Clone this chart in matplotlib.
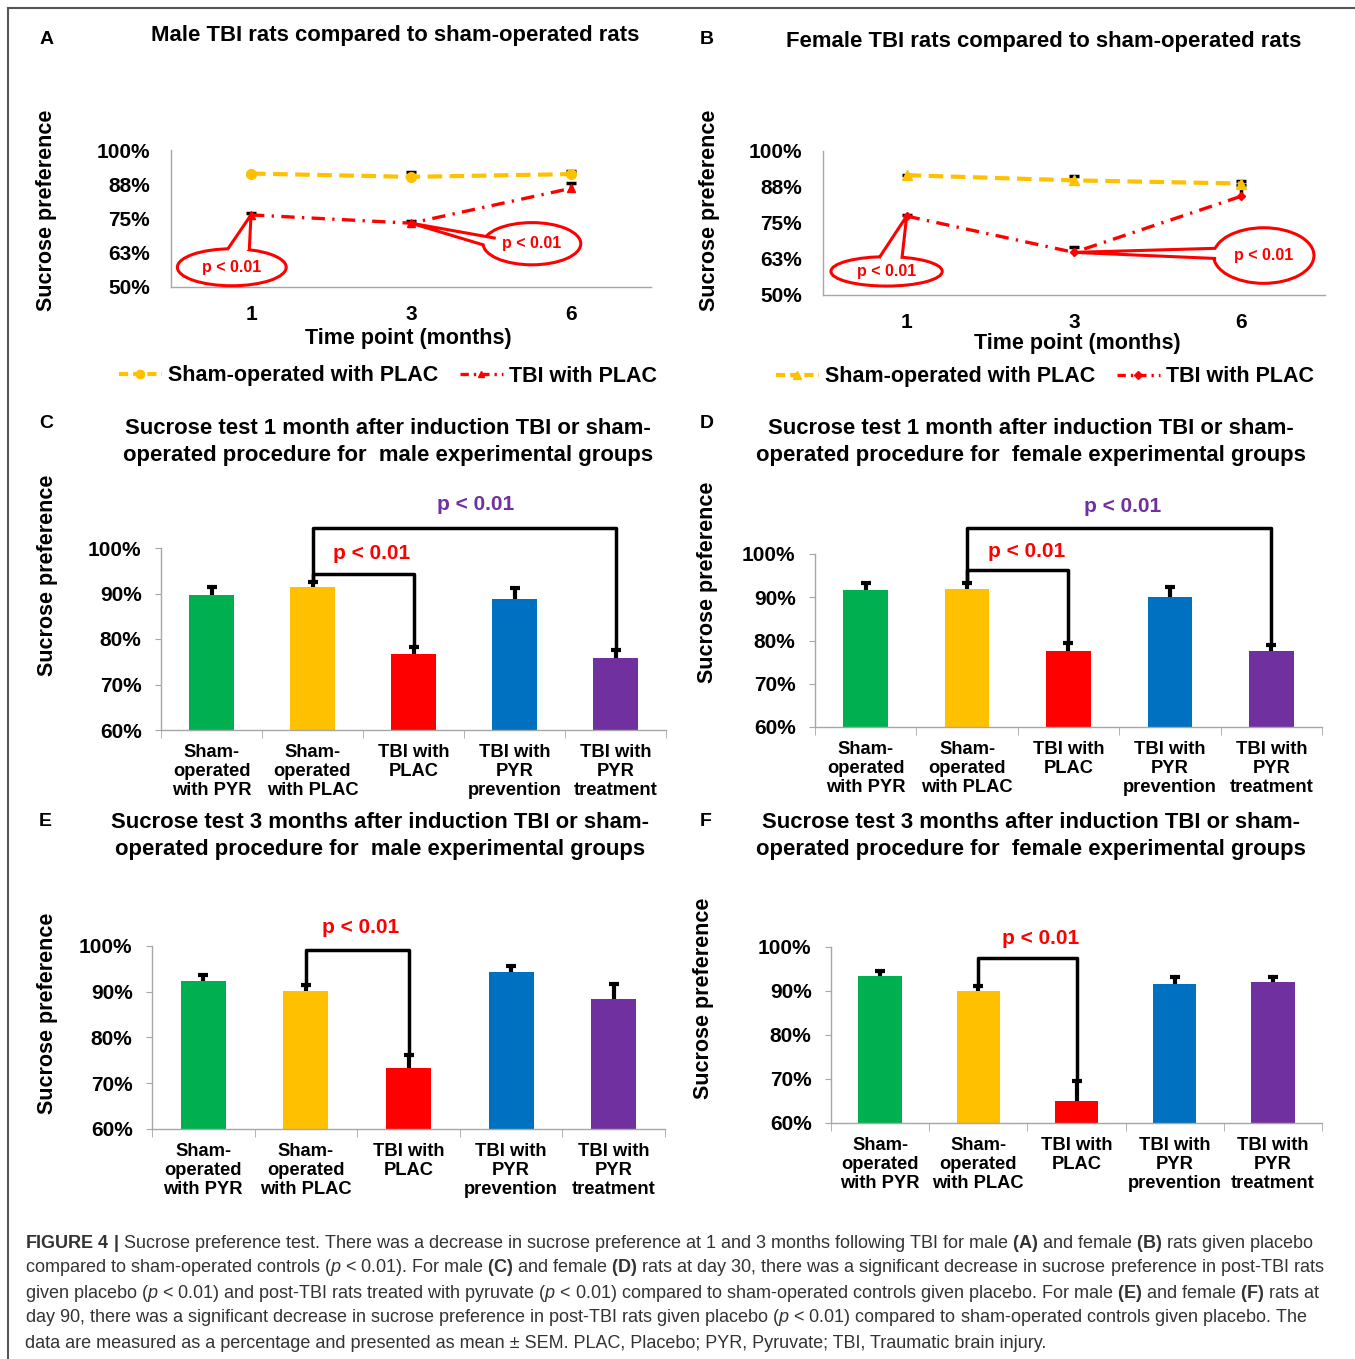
import numpy as np
import matplotlib.pyplot as plt
from matplotlib.patches import Ellipse, Polygon
from matplotlib.lines import Line2D

plt.rcParams['font.family'] = ['Liberation Sans', 'DejaVu Sans']
plt.rcParams['mathtext.fontset'] = 'custom'
plt.rcParams['mathtext.rm'] = 'Liberation Sans'
plt.rcParams['mathtext.bf'] = 'Liberation Sans:bold'
plt.rcParams['mathtext.it'] = 'Liberation Sans:italic'

W, H = 1355, 1359

# ---- data (A, B: time course) ----
months = ['1', '3', '6']
male_sham = [91.4, 90.2, 91.2]
male_sham_err = [0.0, 1.9, 1.2]
male_tbi = [76.3, 73.3, 86.0]
male_tbi_err = [0.6, 0.9, 1.9]
female_sham = [91.6, 89.8, 88.7]
female_sham_err = [0.0, 1.5, 0.8]
female_tbi = [77.4, 64.8, 84.3]
female_tbi_err = [0.5, 1.9, 4.0]

# ---- data (C-F: bar charts) ----
groups = ['Sham-\noperated\nwith PYR', 'Sham-\noperated\nwith PLAC', 'TBI with\nPLAC',
          'TBI with\nPYR\nprevention', 'TBI with\nPYR\ntreatment']
bar_colors = ['#00B050', '#FFC000', '#FF0000', '#0070C0', '#7030A0']
c_vals = [89.6, 91.5, 76.6, 88.8, 75.8]
c_err = [1.9, 1.0, 1.6, 2.4, 1.8]
d_vals = [91.7, 91.8, 77.5, 90.1, 77.6]
d_err = [1.7, 1.4, 2.0, 2.2, 1.3]
e_vals = [92.4, 90.2, 73.4, 94.4, 88.4]
e_err = [1.3, 1.3, 2.8, 1.2, 3.3]
f_vals = [93.3, 90.1, 64.9, 91.7, 92.0]
f_err = [1.2, 1.0, 4.7, 1.5, 1.2]

YELLOW = '#FFC000'
RED = '#FF0000'
PURPLE = '#7030A0'
GRAY = '#A6A6A6'

fig = plt.figure(figsize=(W / 100, H / 100), dpi=100)


def fx(x):
    return x / W


def fy(y):
    return 1 - y / H


def make_axes(x0, y0, x1, y1):
    ax = fig.add_axes([fx(x0), fy(y1), (x1 - x0) / W, (y1 - y0) / H])
    for s in ['top', 'right']:
        ax.spines[s].set_visible(False)
    for s in ['left', 'bottom']:
        ax.spines[s].set_color(GRAY)
        ax.spines[s].set_linewidth(1.0)
    return ax


def up_errors(ax, x, vals, err, lw, z):
    # error bars drawn only above the mean, with a small cap
    tops = [v + e for v, e in zip(vals, err)]
    ax.vlines(x, vals, tops, color='black', lw=lw, zorder=z)
    ax.plot(x, tops, linestyle='none', marker='_', markersize=7, markeredgewidth=lw,
            color='black', zorder=z)


def callout(ax, center, w, h, base1, base2, tip):
    ell = Ellipse(center, w, h, facecolor='white', edgecolor=RED, lw=2.2, zorder=6, clip_on=False)
    ax.add_patch(ell)
    cx, cy = center
    b1in = (base1[0] + 0.2 * (cx - base1[0]), base1[1] + 0.2 * (cy - base1[1]))
    b2in = (base2[0] + 0.2 * (cx - base2[0]), base2[1] + 0.2 * (cy - base2[1]))
    ax.add_patch(Polygon([tip, base1, b1in, b2in, base2], closed=True, facecolor='white',
                         edgecolor='none', zorder=7, clip_on=False))
    ax.plot([base1[0], tip[0], base2[0]], [base1[1], tip[1], base2[1]], color=RED, lw=2.2,
            zorder=8, clip_on=False)
    ax.text(cx, cy, 'p < 0.01', color=RED, fontsize=11.5, fontweight='bold',
            ha='center', va='center', zorder=9)


def line_panel(rect, sham, sham_err, tbi, tbi_err, sham_mk, tbi_mk):
    ax = make_axes(*rect)
    x = np.arange(len(months))
    up_errors(ax, x, sham, sham_err, 2.5, 2)
    up_errors(ax, x, tbi, tbi_err, 2.5, 2)
    ax.plot(x, sham, color=YELLOW, lw=3, linestyle=(0, (3.5, 1.8)), marker=sham_mk,
            markersize=7, zorder=3)
    ax.plot(x, tbi, color=RED, lw=2.4, linestyle=(0, (4, 2.2, 0.7, 2.2)), marker=tbi_mk,
            markersize=5.5 if tbi_mk == '^' else 4.5, zorder=4)
    ax.set_xlim(-0.5, 2.5)
    ax.set_ylim(50, 100)
    ax.set_xticks(x)
    ax.set_xticklabels(months, fontsize=15, fontweight='bold')
    ax.set_yticks([50, 62.5, 75, 87.5, 100])
    ax.set_yticklabels(['50%', '63%', '75%', '88%', '100%'], fontsize=15, fontweight='bold')
    ax.tick_params(axis='both', length=0)
    ax.tick_params(axis='y', pad=15)
    ax.tick_params(axis='x', pad=13)
    handles = [Line2D([], [], color=YELLOW, lw=3, linestyle=(0, (2.2, 1.2)), marker=sham_mk,
                      markersize=6),
               Line2D([], [], color=RED, lw=2.4, linestyle=(0, (2.5, 1.5, 0.7, 1.5)),
                      marker=tbi_mk, markersize=4.5)]
    return ax, handles


def bar_panel(rect, vals, err, brackets):
    ax = make_axes(*rect)
    x = np.arange(len(groups))
    ax.bar(x, [v - 60 for v in vals], bottom=60, width=0.44, color=bar_colors, zorder=2)
    up_errors(ax, x, vals, err, 3, 3)
    ax.set_xlim(-0.5, 4.5)
    ax.set_ylim(60, 100)
    ax.set_yticks([60, 70, 80, 90, 100])
    ax.set_yticklabels(['60%', '70%', '80%', '90%', '100%'], fontsize=15, fontweight='bold')
    ax.set_xticks(x)
    ax.set_xticklabels(groups, fontsize=13.2, fontweight='bold', linespacing=1.15)
    ax.set_xticks(np.arange(-0.5, 5, 1), minor=True)
    ax.tick_params(axis='x', which='major', length=0, pad=10)
    ax.tick_params(axis='x', which='minor', length=6, color=GRAY)
    ax.tick_params(axis='y', length=4, color=GRAY, pad=10)
    for i, j, level, tx, ty, col in brackets:
        ax.plot([i, i, j, j], [vals[i] + err[i], level, level, vals[j] + err[j]],
                color='black', lw=2.5, zorder=4, clip_on=False)
        ax.text(tx, ty, 'p < 0.01', color=col, fontsize=15, fontweight='bold',
                ha='center', va='center')
    return ax


# ---- panel A ----
axA, hA = line_panel((171, 150, 651, 287), male_sham, male_sham_err, male_tbi, male_tbi_err,
                     'o', '^')
callout(axA, (-0.12, 57.2), 0.68, 13.5, (-0.14, 64.3), (-0.01, 64.3), (0, male_tbi[0]))
callout(axA, (1.756, 65.8), 0.61, 15.4, (1.52, 67.9), (1.45, 65.4), (1, male_tbi[1]))
axA.legend(hA, ['Sham-operated with PLAC', 'TBI with PLAC'], loc='center',
           bbox_to_anchor=(fx(388), fy(376)), bbox_transform=fig.transFigure, ncol=2,
           frameon=False, prop=dict(weight='bold', size=15.5), handlelength=2.0,
           handletextpad=0.3, columnspacing=1.0)

# ---- panel B ----
axB, hB = line_panel((823, 151, 1325, 295), female_sham, female_sham_err, female_tbi,
                     female_tbi_err, '^', 'D')
callout(axB, (-0.12, 58.2), 0.665, 10.2, (-0.16, 63.3), (-0.027, 63.3), (0, female_tbi[0]))
callout(axB, (2.134, 63.7), 0.60, 19.3, (1.84, 66.2), (1.84, 62.7), (1, female_tbi[1]))
axB.legend(hB, ['Sham-operated with PLAC', 'TBI with PLAC'], loc='center',
           bbox_to_anchor=(fx(1045), fy(377)), bbox_transform=fig.transFigure, ncol=2,
           frameon=False, prop=dict(weight='bold', size=15.5), handlelength=2.0,
           handletextpad=0.3, columnspacing=1.0)

# ---- panels C-F ----
bar_panel((161, 548, 666, 730), c_vals, c_err,
          [(1, 2, 94.3, 1.59, 98.9, RED), (1, 4, 104.4, 2.62, 109.5, PURPLE)])
bar_panel((815, 554, 1322, 727), d_vals, d_err,
          [(1, 2, 96.4, 1.59, 100.6, RED), (1, 4, 106.1, 2.53, 110.9, PURPLE)])
bar_panel((152, 946, 665, 1129), e_vals, e_err, [(1, 2, 99.1, 1.53, 104.0, RED)])
bar_panel((831, 947, 1322, 1123), f_vals, f_err, [(1, 2, 97.5, 1.63, 101.9, RED)])

# ---- titles, letters, axis labels ----
titles = [
    (395, 36, 'Male TBI rats compared to sham-operated rats'),
    (1044, 42, 'Female TBI rats compared to sham-operated rats'),
    (388, 442, 'Sucrose test 1 month after induction TBI or sham-\noperated procedure for  male experimental groups'),
    (1031, 442, 'Sucrose test 1 month after induction TBI or sham-\noperated procedure for  female experimental groups'),
    (380, 836, 'Sucrose test 3 months after induction TBI or sham-\noperated procedure for  male experimental groups'),
    (1031, 836, 'Sucrose test 3 months after induction TBI or sham-\noperated procedure for  female experimental groups'),
]
for x, y, t in titles:
    fig.text(fx(x), fy(y), t, ha='center', va='center', fontsize=15.9, fontweight='bold',
             linespacing=1.4)

for x, y, t in [(47, 40, 'A'), (707, 40, 'B'), (46, 424, 'C'), (707, 424, 'D'),
                (45, 822, 'E'), (706, 822, 'F')]:
    fig.text(fx(x), fy(y), t, ha='center', va='center', fontsize=14, fontweight='bold')

for x, y in [(47, 210), (709, 210), (48, 575), (707, 582), (48, 1013), (703, 998)]:
    fig.text(fx(x), fy(y), 'Sucrose preference', rotation=90, ha='center', va='center',
             fontsize=15.5, fontweight='bold')

fig.text(fx(408), fy(339), 'Time point (months)', ha='center', va='center', fontsize=15.5,
         fontweight='bold')
fig.text(fx(1077), fy(344), 'Time point (months)', ha='center', va='center', fontsize=15.5,
         fontweight='bold')

# ---- caption ----
caption = [
    r'$\mathbf{FIGURE\ 4\ |}$ Sucrose preference test. There was a decrease in sucrose preference at 1 and 3 months following TBI for male $\mathbf{(A)}$ and female $\mathbf{(B)}$ rats given placebo',
    r'compared to sham-operated controls ($\mathit{p}$ < 0.01). For male $\mathbf{(C)}$ and female $\mathbf{(D)}$ rats at day 30, there was a significant decrease in sucrose preference in post-TBI rats',
    r'given placebo ($\mathit{p}$ < 0.01) and post-TBI rats treated with pyruvate ($\mathit{p}$ < 0.01) compared to sham-operated controls given placebo. For male $\mathbf{(E)}$ and female $\mathbf{(F)}$ rats at',
    r'day 90, there was a significant decrease in sucrose preference in post-TBI rats given placebo ($\mathit{p}$ < 0.01) compared to sham-operated controls given placebo. The',
    'data are measured as a percentage and presented as mean \u00b1 SEM. PLAC, Placebo; PYR, Pyruvate; TBI, Traumatic brain injury.',
]
for k, line in enumerate(caption):
    fig.text(fx(25), fy(1243 + 25 * k), line, ha='left', va='center', fontsize=13.0,
             color='#333333')

# frame lines
fig.add_artist(Line2D([fx(8), 1], [fy(8), fy(8)], transform=fig.transFigure, color='#555555', lw=1.5))
fig.add_artist(Line2D([fx(8), fx(8)], [fy(8), 0], transform=fig.transFigure, color='#555555', lw=1.5))

fig.savefig('out.png', dpi=100)
